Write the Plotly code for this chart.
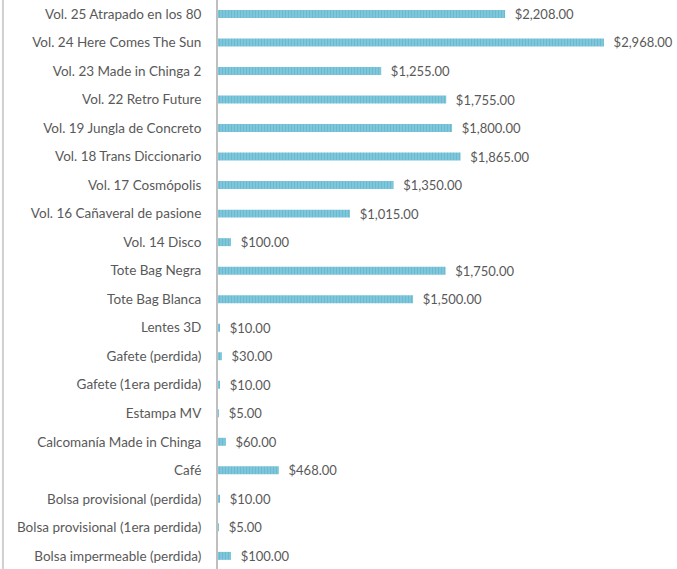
import plotly.graph_objects as go

categories = [
    "Vol. 25 Atrapado en los 80",
    "Vol. 24 Here Comes The Sun",
    "Vol. 23 Made in Chinga 2",
    "Vol. 22 Retro Future",
    "Vol. 19 Jungla de Concreto",
    "Vol. 18 Trans Diccionario",
    "Vol. 17 Cosmópolis",
    "Vol. 16 Cañaveral de pasione",
    "Vol. 14 Disco",
    "Tote Bag Negra",
    "Tote Bag Blanca",
    "Lentes 3D",
    "Gafete (perdida)",
    "Gafete (1era perdida)",
    "Estampa MV",
    "Calcomanía Made in Chinga",
    "Café",
    "Bolsa provisional (perdida)",
    "Bolsa provisional (1era perdida)",
    "Bolsa impermeable (perdida)",
]
values = [2208, 2968, 1255, 1755, 1800, 1865, 1350, 1015, 100, 1750,
          1500, 10, 30, 10, 5, 60, 468, 10, 5, 100]

bar_color = "#4BACC6"
text_color = "#595959"

fig = go.Figure(go.Bar(
    y=categories,
    x=values,
    orientation="h",
    marker=dict(
        color=bar_color,
        line=dict(width=0),
        pattern=dict(shape="|", fgcolor="#46A9C4", bgcolor="#8DCDE0",
                     size=3, solidity=0.6),
    ),
    texttemplate="\u00a0\u00a0%{x:$,.2f}",
    textposition="outside",
    constraintext="none",
    cliponaxis=False,
    textfont=dict(family="Lato", size=13, color=text_color),
    hoverinfo="skip",
))

fig.update_layout(
    width=677, height=569,
    margin=dict(l=218, r=10, t=0, b=0, autoexpand=False),
    paper_bgcolor="white",
    plot_bgcolor="white",
    bargap=0.72,
    showlegend=False,
    font=dict(family="Lato", size=13.5, color=text_color),
    xaxis=dict(range=[0, 3453], visible=False, fixedrange=True, automargin=False),
    yaxis=dict(
        range=[19.46, -0.49], automargin=False,
        showline=True, linecolor="#BFBFBF", linewidth=2,
        showgrid=False, ticks="", ticklabelstandoff=12,
        tickfont=dict(family="Lato", size=13.5, color=text_color),
        fixedrange=True,
    ),
    shapes=[dict(type="line", xref="paper", yref="paper",
                 x0=-0.479, x1=-0.479, y0=0, y1=1,
                 line=dict(color="#D0D0D0", width=2))],
)

fig.write_html(
    "out.html",
    config={"displayModeBar": False},
    post_script="document.body.style.margin='0';document.body.style.overflow='hidden';",
)
